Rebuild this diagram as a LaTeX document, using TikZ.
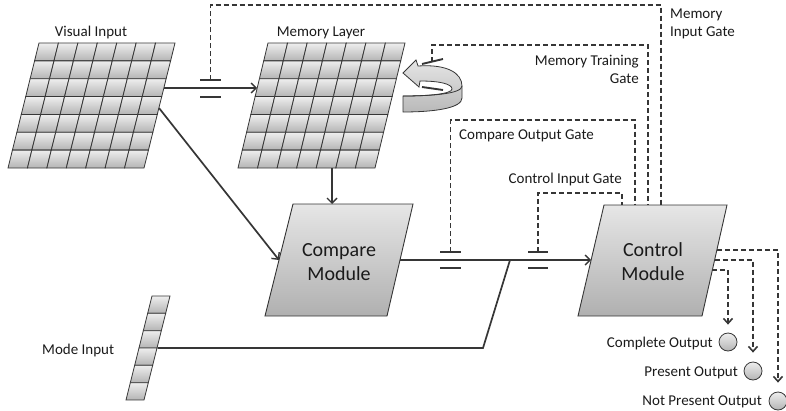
\documentclass[tikz,border=0pt]{standalone}
\usepackage{fontspec}
\setmainfont{Carlito}
\usetikzlibrary{arrows.meta}
\definecolor{ln}{HTML}{363636}
\definecolor{txt}{HTML}{1A1A1A}
\definecolor{cellT}{HTML}{EEEEEE}
\definecolor{cellB}{HTML}{B4B4B4}
\definecolor{modT}{HTML}{E6E6E6}
\definecolor{modB}{HTML}{B0B0B0}
\newcommand{\mygrid}[7]{%
 \foreach \i in {0,...,#6}{\foreach \j in {0,...,#7}{%
  \pgfmathsetmacro\xa{#1+\i*#3-#5*\j*#4}%
  \pgfmathsetmacro\ya{#2+\j*#4}%
  \pgfmathsetmacro\xb{\xa-#5*#4}%
  \pgfmathsetmacro\yb{\ya+#4}%
  \shade[cellsty] (\xa,\ya) -- ({\xa+#3},\ya) -- ({\xb+#3},\yb) -- (\xb,\yb) -- cycle;
 }}}
\begin{document}
\begin{tikzpicture}[x=1pt,y=-1pt,
  cellsty/.style={top color=cellT,bottom color=cellB,draw=ln,line width=0.8pt},
  modsty/.style={top color=modT,bottom color=modB,draw=ln,line width=0.9pt},
  lbl/.style={font=\fontsize{15}{19}\selectfont,text=txt,inner sep=0pt},
  modtxt/.style={font=\fontsize{20}{24}\selectfont,text=txt,align=center,inner sep=0pt},
  conn/.style={line width=1.7pt,draw=ln},
  arr/.style={conn,-{Straight Barb[length=5pt,width=10pt,line width=1.4pt]}},
  gline/.style={line width=1.9pt,draw=ln,dash pattern=on 5pt off 3pt},
  garr/.style={gline,-{Straight Barb[length=5pt,width=9pt,line width=1.6pt]}},
  bar/.style={line width=1.9pt,draw=ln},
  outc/.style={circle,minimum size=18pt,inner sep=0pt,draw=ln,line width=0.8pt,top color=cellT,bottom color=cellB},
  rotsty/.style={top color=gray!20,bottom color=gray!55,draw=ln,line width=0.8pt}]
\useasboundingbox (0,0) rectangle (786,410);

% grids
\mygrid{39}{43}{19.43}{17.857}{0.248}{6}{6}
\mygrid{268}{43}{19.57}{17.857}{0.24}{6}{6}
\mygrid{152}{296}{18}{17.33}{0.25}{0}{5}

% modules
\shade[modsty] (293,204) -- (413,204) -- (387,316) -- (265,316) -- cycle;
\shade[modsty] (604,205) -- (727,205) -- (702,316) -- (578,316) -- cycle;
\node[modtxt] (cmp) at (339,262.5) {Compare\\Module};
\node[modtxt] (ctl) at (653,262) {Control\\Module};

% rotation arrow
\shade[rotsty] (403,73) -- (416,60) -- (418,66) .. controls (447,64) and (462,73) .. (462,86) -- (462,98) .. controls (462,108) and (435,112) .. (403,112) -- (403,96) .. controls (428,96) and (452,94) .. (452,89) .. controls (452,84) and (440,81) .. (420,81) -- (419,87) -- cycle;
\draw[ln,line width=0.8pt] (403,96) .. controls (430,96) and (462,94) .. (462,86);

% labels
\node[lbl,anchor=base] (lvi) at (91,36) {Visual Input};
\node[lbl,anchor=base] (lml) at (321,36) {Memory Layer};
\node[lbl,anchor=base west] (lmig1) at (670,18.5) {Memory};
\node[lbl,anchor=base west] (lmig2) at (670,36.5) {Input Gate};
\node[lbl,anchor=base east] (lmtg1) at (639,65.5) {Memory Training};
\node[lbl,anchor=base east] (lmtg2) at (639,83.5) {Gate};
\node[lbl,anchor=base west] (lcog) at (459,139) {Compare Output Gate};
\node[lbl,anchor=base east] (lcig) at (622,183.5) {Control Input Gate};
\node[lbl,anchor=base west] (lmi) at (42,354) {Mode Input};
\node[lbl,anchor=base east] (lco) at (713,347) {Complete Output};
\node[lbl,anchor=base east] (lpo) at (738,376) {Present Output};
\node[lbl,anchor=base east] (lnpo) at (762,405) {Not Present Output};

% output circles
\node[outc] (oc) at (728,342) {};
\node[outc] (op) at (753,371) {};
\node[outc] (onp) at (778,401) {};

% coordinates
\coordinate (viR1) at (164,88);
\coordinate (mlL) at (257,88);
\coordinate (viR2) at (159,108);
\coordinate (cmL) at (279,260);
\coordinate (mlB) at (332,168);
\coordinate (cmT) at (332,204);
\coordinate (cmR) at (400,260);
\coordinate (ctL) at (591,260);
\coordinate (moR) at (157.5,348);
\coordinate (moK) at (483,348);
\coordinate (jn) at (510,260);

% solid connectors
\draw[arr] (viR1) -- (mlL);
\draw[arr] (viR2) -- (cmL);
\draw[arr] (mlB) -- (cmT);
\draw[arr] (cmR) -- (ctL);
\draw[conn] (moR) -- (moK) -- (jn);

% gates
\coordinate (g1t) at (210.5,80);
\coordinate (g2t) at (450.5,252);
\coordinate (g3t) at (538,252);
\coordinate (g4t) at (432,61.6);
\draw[bar] (200,80) -- (221,80);
\draw[bar] (200,97) -- (221,97);
\draw[bar] (440,252) -- (461,252);
\draw[bar] (440,268) -- (461,268);
\draw[bar] (528,252) -- (548,252);
\draw[bar] (528,268) -- (548,268);
\draw[bar] (422,64) -- (443,59);
\draw[bar] (422,87) -- (443,90);

% control tops
\coordinate (c1) at (661,205);
\coordinate (c2) at (648,205);
\coordinate (c3) at (635,205);
\coordinate (c4) at (622,205);

% dashed gate lines
\draw[gline] (g1t) -- (210.5,5) -- (661,5) -- (c1);
\draw[gline] (g4t) -- (432,45) -- (648,45) -- (c2);
\draw[gline] (g2t) -- (450.5,120) -- (635,120) -- (c3);
\draw[gline] (g3t) -- (538,193) -- (622,193) -- (c4);

% outputs
\coordinate (r1) at (717,250);
\coordinate (r2) at (714.6,260);
\coordinate (r3) at (712.4,270);
\draw[garr] (r1) -- (778,250) -- ([yshift=9pt]onp.north);
\draw[garr] (r2) -- (753,260) -- ([yshift=9pt]op.north);
\draw[garr] (r3) -- (728,270) -- ([yshift=8pt]oc.north);
\end{tikzpicture}
\end{document}
